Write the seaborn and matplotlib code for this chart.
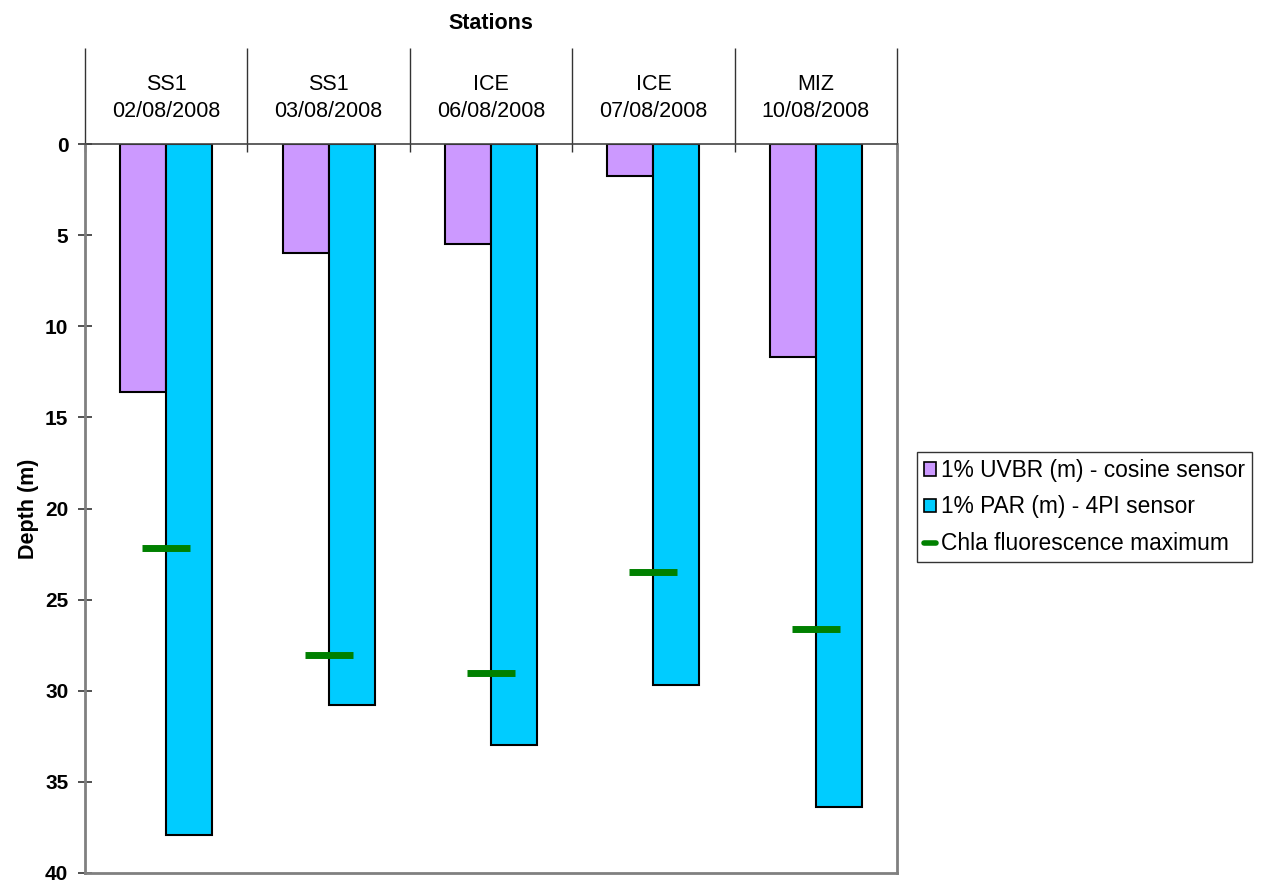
import numpy as np
import pandas as pd
import matplotlib
matplotlib.use("Agg")
import matplotlib.pyplot as plt
from matplotlib.patches import Patch
from matplotlib.lines import Line2D
import seaborn as sns

# ---- data ----
stations = ["SS1", "SS1", "ICE", "ICE", "MIZ"]
dates = ["02/08/2008", "03/08/2008", "06/08/2008", "07/08/2008", "10/08/2008"]
uvbr_depth = [13.6, 6.0, 5.5, 1.75, 11.7]      # 1% UVBR (m) - cosine sensor
par_depth = [37.9, 30.8, 33.0, 29.7, 36.4]     # 1% PAR (m) - 4PI sensor
chla_max = [22.15, 28.05, 29.0, 23.5, 26.6]    # Chla fluorescence maximum
series_names = ["1% UVBR (m) - cosine sensor", "1% PAR (m) - 4PI sensor"]
chla_name = "Chla fluorescence maximum"
y_ticks = [0, 5, 10, 15, 20, 25, 30, 35, 40]

# ---- styles ----
c_uvbr = "#CC99FF"
c_par = "#00CCFF"
c_chla = "#008000"

sns.set_style("white")
plt.rcParams["font.family"] = ["Liberation Sans", "DejaVu Sans"]
plt.rcParams["text.color"] = "black"
plt.rcParams["axes.labelcolor"] = "black"
plt.rcParams["xtick.color"] = "black"
plt.rcParams["ytick.color"] = "black"

labels = [f"{s}\n{d}" for s, d in zip(stations, dates)]
n = len(labels)
df = pd.DataFrame({
    "label": labels * 2,
    "depth": uvbr_depth + par_depth,
    "series": [series_names[0]] * n + [series_names[1]] * n,
})

W, H = 1261, 882
fig = plt.figure(figsize=(W / 100, H / 100), dpi=100)
ax = fig.add_axes([85 / W, 9 / H, 812 / W, 729 / H])

sns.barplot(data=df, x="label", y="depth", hue="series", order=labels,
            hue_order=series_names, palette=[c_uvbr, c_par], saturation=1,
            width=0.567, gap=0, edgecolor="black", linewidth=1.5,
            errorbar=None, legend=False, ax=ax)

ax.plot(np.arange(n), chla_max, ls="none", marker="_", ms=35, mew=5,
        color=c_chla)

ax.set_xlim(-0.5, n - 0.5)
ax.set_ylim(40, 0)
ax.set_yticks(y_ticks)
ax.set_yticklabels([str(t) for t in y_ticks], fontsize=15, fontweight="bold")
ax.tick_params(axis="y", direction="inout", length=10, width=1.2,
               color="#333333", pad=7, left=True)
ax.set_xlabel("")
ax.set_ylabel("Depth (m)", fontsize=15.5, fontweight="bold", labelpad=4)

ax.xaxis.tick_top()
ax.set_xticks(np.arange(n))
ax.set_xticklabels(labels, fontsize=15.5, linespacing=1.35)
ax.tick_params(axis="x", length=0, pad=16)

for side in ["left", "bottom", "right"]:
    ax.spines[side].set_color("#808080")
    ax.spines[side].set_linewidth(2)
ax.spines["top"].set_color("#444444")
ax.spines["top"].set_linewidth(1.2)

# header separators between stations
ax.vlines(np.arange(n + 1) - 0.5, 0.989, 1.132, transform=ax.get_xaxis_transform(),
          colors="#333333", linewidth=1, clip_on=False)
ax.text(0.5, 1.165, "Stations", transform=ax.transAxes, ha="center", va="center",
        fontsize=15.5, fontweight="bold")

handles = [
    Patch(facecolor=c_uvbr, edgecolor="black", linewidth=1.2, label=series_names[0]),
    Patch(facecolor=c_par, edgecolor="black", linewidth=1.2, label=series_names[1]),
    Line2D([0], [0], color=c_chla, lw=4, label=chla_name),
]
leg = fig.legend(handles=handles, loc="center left",
                 bbox_to_anchor=(917 / W, 1 - 507 / H), fontsize=16.4,
                 frameon=True, fancybox=False, shadow=False, edgecolor="black",
                 borderpad=0.3, handlelength=0.55, handleheight=0.55,
                 handletextpad=0.2, labelspacing=0.6, borderaxespad=0)
leg.get_frame().set_linewidth(1)

fig.savefig("out.png", dpi=100, facecolor="white")
